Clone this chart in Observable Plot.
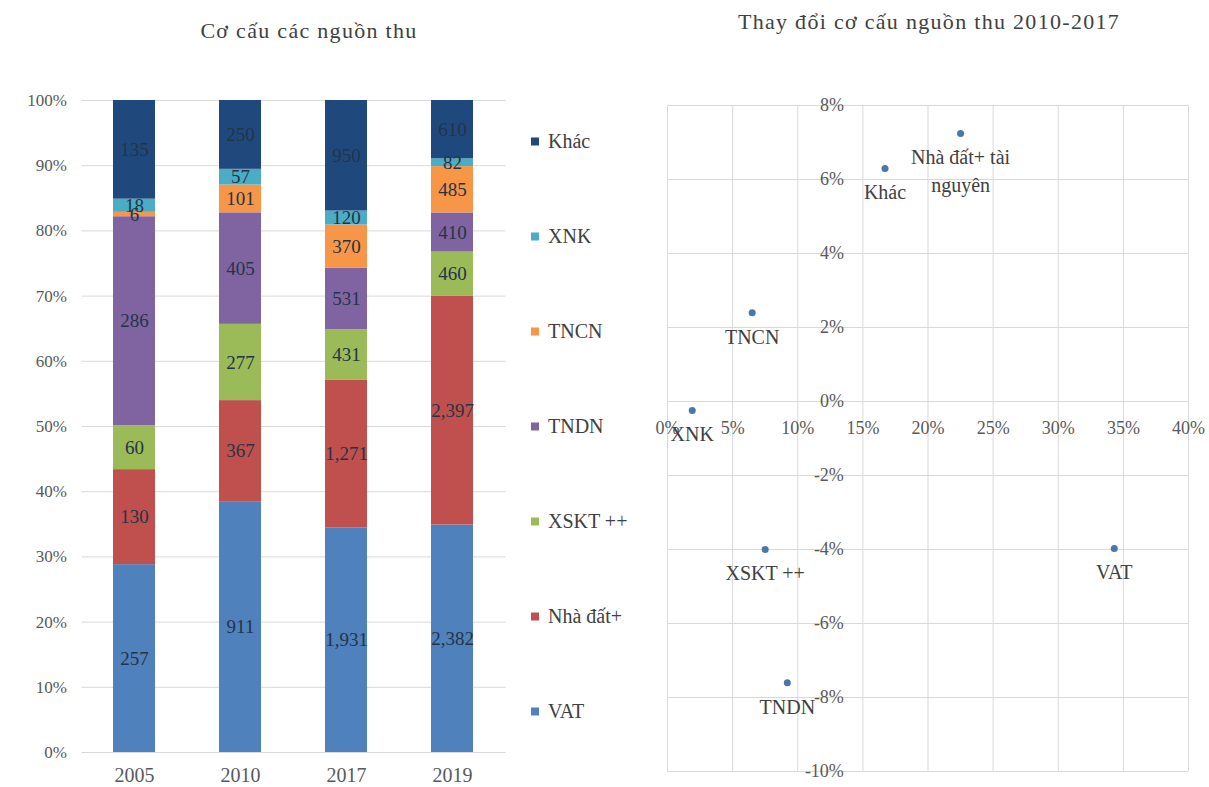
<!DOCTYPE html>
<html>
<head>
<meta charset="utf-8">
<script src="https://cdn.jsdelivr.net/npm/d3@7"></script>
<script src="https://cdn.jsdelivr.net/npm/@observablehq/plot@0.6"></script>
<style>
  body { margin: 0; background: #fff; font-family: "Liberation Serif", serif; }
  #wrap { position: relative; width: 1209px; height: 787px; overflow: hidden; background: #fff; }
  .title { position: absolute; font-size: 22px; letter-spacing: 1.3px; color: #404040; white-space: nowrap; transform: translate(-50%, -50%); }
  .chart { position: absolute; top: 0; }
  .legend-item { position: absolute; left: 531px; display: flex; align-items: center; font-size: 20px; color: #404040; transform: translateY(-50%); white-space: nowrap; }
  .legend-item span.sw { display: inline-block; width: 8px; height: 8px; margin-right: 9px; }
</style>
</head>
<body>
<div id="wrap">
  <div class="title" style="left:309px; top:31px;">Cơ cấu các nguồn thu</div>
  <div class="title" style="left:929px; top:22px;">Thay đổi cơ cấu nguồn thu 2010-2017</div>
  <div id="left" class="chart" style="left:0px;"></div>
  <div id="legend"></div>
  <div id="right" class="chart" style="left:600px;"></div>
</div>
<script>
// Revenue structure by year (stacked, bottom to top)
const years = ["2005", "2010", "2017", "2019"];
const seriesNames = ["VAT", "Nhà đất+", "XSKT ++", "TNDN", "TNCN", "XNK", "Khác"];
const vat    = [257, 911, 1931, 2382];
const nhaDat = [130, 367, 1271, 2397];
const xskt   = [60, 277, 431, 460];
const tndn   = [286, 405, 531, 410];
const tncn   = [6, 101, 370, 485];
const xnk    = [18, 57, 120, 82];
const khac   = [135, 250, 950, 610];
const seriesColors = ["#4F81BD", "#C0504D", "#9BBB59", "#8064A2", "#F79646", "#4BACC6", "#1F497D"];
const shareTicks = [0, 0.1, 0.2, 0.3, 0.4, 0.5, 0.6, 0.7, 0.8, 0.9, 1];

// Change in structure 2010-2017: share in 2017 (x) vs change in share (y)
const pointNames = ["Khác", "Nhà đất+ tài\nnguyên", "TNCN", "XNK", "XSKT ++", "VAT", "TNDN"];
const share2017  = [0.167, 0.225, 0.065, 0.019, 0.075, 0.343, 0.092];
const shareDelta = [0.063, 0.0724, 0.024, -0.0024, -0.040, -0.0397, -0.076];
const xTicks = [0, 0.05, 0.10, 0.15, 0.20, 0.25, 0.30, 0.35, 0.40];
const yTicks = [-0.10, -0.08, -0.06, -0.04, -0.02, 0, 0.02, 0.04, 0.06, 0.08];

const seriesValues = [vat, nhaDat, xskt, tndn, tncn, xnk, khac];
const rows = years.flatMap((yr, i) =>
  seriesNames.map((s, j) => ({year: yr, series: s, value: seriesValues[j][i]}))
);
const pct = d => Math.round(d * 100) + "%";
const grid = "#d9d9d9";

const left = Plot.plot({
  width: 520,
  height: 787,
  marginTop: 100,
  marginBottom: 35,
  marginLeft: 81.5,
  marginRight: 14.5,
  style: {fontFamily: "Liberation Serif, serif", fontSize: "17px", color: "#595959", background: "transparent"},
  x: {domain: years, paddingInner: 0.6, paddingOuter: 0.3, label: null, axis: null},
  y: {domain: [0, 1], ticks: shareTicks, tickFormat: pct, label: null, tickSize: 0, tickPadding: 15},
  color: {domain: seriesNames, range: seriesColors},
  marks: [
    Plot.gridY(shareTicks, {stroke: grid, strokeOpacity: 1}),
    Plot.barY(rows, Plot.stackY({x: "year", y: "value", fill: "series", order: seriesNames, offset: "normalize"})),
    Plot.text(rows, Plot.stackY({
      x: "year", y: "value", z: "series", order: seriesNames, offset: "normalize",
      text: d => d3.format(",")(d.value), fill: "#243447", fontSize: 19
    })),
    Plot.axisX({fontSize: 20, tickSize: 0, tickPadding: 15, label: null})
  ]
});
document.getElementById("left").appendChild(left);

// Legend, top to bottom in reverse stacking order
const legend = document.getElementById("legend");
seriesNames.slice().reverse().forEach((name, i) => {
  const item = document.createElement("div");
  item.className = "legend-item";
  item.style.top = (141 + i * 95) + "px";
  const sw = document.createElement("span");
  sw.className = "sw";
  sw.style.background = seriesColors[seriesNames.indexOf(name)];
  item.appendChild(sw);
  item.appendChild(document.createTextNode(name));
  legend.appendChild(item);
});

const points = pointNames.map((n, i) => ({name: n, x: share2017[i], y: shareDelta[i]}));

const right = Plot.plot({
  width: 609,
  height: 787,
  marginTop: 105,
  marginBottom: 16,
  marginLeft: 67,
  marginRight: 21,
  style: {fontFamily: "Liberation Serif, serif", fontSize: "18px", color: "#595959", background: "transparent"},
  x: {domain: [0, 0.40], axis: null},
  y: {domain: [-0.10, 0.08], axis: null},
  marks: [
    Plot.gridX(xTicks, {stroke: grid, strokeOpacity: 1}),
    Plot.gridY(yTicks, {stroke: grid, strokeOpacity: 1}),
    Plot.text(xTicks, {x: d => d, y: () => 0, text: pct, dy: 27, fill: "#595959", fontSize: 18}),
    Plot.text(yTicks, {x: () => 0.15, y: d => d, text: pct, dx: -19, textAnchor: "end", fill: "#595959", fontSize: 18}),
    Plot.dot(points, {x: "x", y: "y", r: 3.5, fill: "#4A76B0"}),
    Plot.text(points, {x: "x", y: "y", text: "name", dy: 11, lineAnchor: "top", lineHeight: 1.4, fill: "#404040", fontSize: 20})
  ]
});
document.getElementById("right").appendChild(right);
</script>
</body>
</html>
